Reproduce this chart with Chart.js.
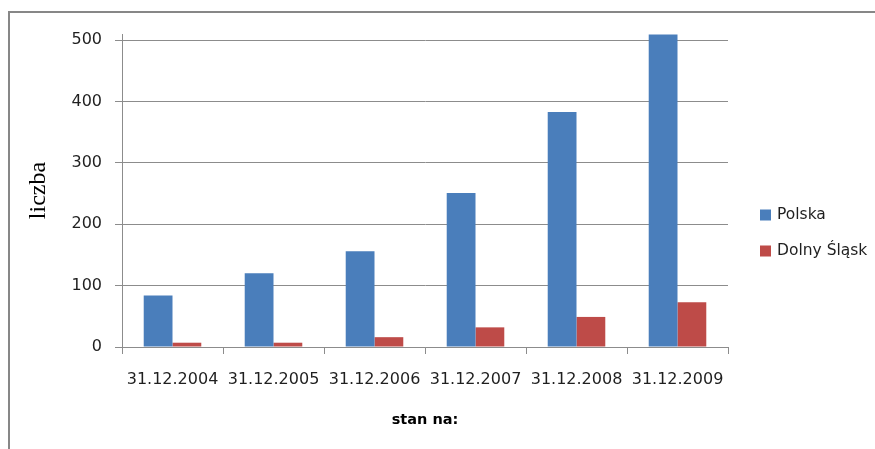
<!DOCTYPE html>
<html>
<head>
<meta charset="utf-8">
<script src="https://cdn.jsdelivr.net/npm/chart.js@4/dist/chart.umd.min.js"></script>
<style>
  html, body { margin: 0; padding: 0; background: #ffffff; }
  #wrap { position: relative; width: 875px; height: 449px; overflow: hidden; }
  #frame { position: absolute; left: 8px; top: 11px; width: 900px; height: 500px;
           border-left: 2px solid #878787; border-top: 2px solid #878787; }
  canvas { position: absolute; left: 0; top: 0; }
</style>
</head>
<body>
<div id="wrap">
  <canvas id="c" width="875" height="449"></canvas>
  <div id="frame"></div>
</div>
<script>
const categories = ['31.12.2004', '31.12.2005', '31.12.2006', '31.12.2007', '31.12.2008', '31.12.2009'];
const polska = [84, 120, 156, 251, 383, 509];
const dolnySlask = [7, 7, 16, 32, 49, 73];
const seriesNames = ['Polska', 'Dolny Śląsk'];
const yTickValues = [0, 100, 200, 300, 400, 500];
const yAxisTitle = 'liczba';
const xAxisTitle = 'stan na:';

const FONT = '"DejaVu Sans", "Open Sans", sans-serif';
const GRID = '#8c8c8c';

const legendPlugin = {
  id: 'sideLegend',
  afterDraw(chart) {
    const ctx = chart.ctx;
    ctx.save();
    ctx.font = '15.5px ' + FONT;
    ctx.textBaseline = 'middle';
    ctx.textAlign = 'left';
    chart.data.datasets.forEach((ds, i) => {
      const y = 215 + i * 36;
      ctx.fillStyle = ds.backgroundColor;
      ctx.fillRect(760, y - 5.5, 11, 11);
      ctx.fillStyle = '#1f1f1f';
      ctx.fillText(ds.label, 777, y);
    });
    ctx.restore();
  }
};

new Chart(document.getElementById('c'), {
  type: 'bar',
  data: {
    labels: categories,
    datasets: [
      { label: seriesNames[0], data: polska, backgroundColor: '#4A7EBB' },
      { label: seriesNames[1], data: dolnySlask, backgroundColor: '#BE4B48' }
    ]
  },
  options: {
    responsive: false,
    animation: false,
    devicePixelRatio: 1,
    layout: { padding: { top: 34, right: 147, left: 0, bottom: 0 } },
    datasets: { bar: { categoryPercentage: 0.57, barPercentage: 1.0 } },
    plugins: { legend: { display: false }, tooltip: { enabled: false } },
    scales: {
      x: {
        grid: { drawOnChartArea: false, drawTicks: true, tickLength: 7, color: GRID, offset: true },
        border: { color: GRID, width: 1 },
        ticks: { color: '#1f1f1f', font: { family: FONT, size: 16 }, padding: 16, maxRotation: 0 },
        title: { display: true, text: xAxisTitle, color: '#000000',
                 font: { family: FONT, size: 14.5, weight: 'bold' }, padding: { top: 0, bottom: 20 } },
        afterFit(scale) { scale.height = 449 - 347; }
      },
      y: {
        min: 0, max: 510,
        afterBuildTicks(scale) { scale.ticks = yTickValues.map(v => ({ value: v })); },
        grid: { color: GRID, tickLength: 7, drawTicks: true },
        border: { color: GRID, width: 1 },
        ticks: { color: '#1f1f1f', font: { family: FONT, size: 16 }, padding: 13 },
        title: { display: true, text: yAxisTitle, color: '#000000',
                 font: { family: '"Liberation Serif", "Times New Roman", serif', size: 24 },
                 padding: { top: 24, bottom: 0 } },
        afterFit(scale) { scale.width = 122; }
      }
    }
  },
  plugins: [legendPlugin]
});
</script>
</body>
</html>
